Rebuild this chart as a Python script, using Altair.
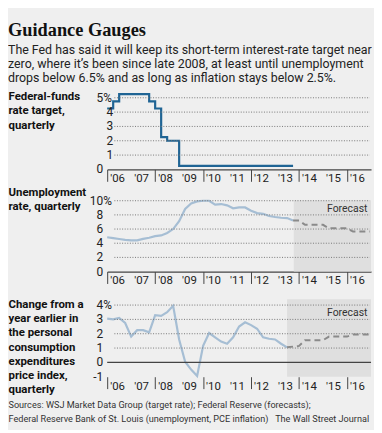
import altair as alt
import pandas as pd

# ---------------- data ----------------
ff_x = [2006.0, 2006.25, 2006.5, 2007.75, 2008.0, 2008.25, 2008.5, 2009.0, 2013.75]
ff_v = [4.25, 4.75, 5.25, 4.75, 4.25, 2.25, 2.0, 0.25, 0.25]

un_x = [2006.0, 2006.25, 2006.5, 2006.75, 2007.0, 2007.25, 2007.5, 2007.75,
        2008.0, 2008.25, 2008.5, 2008.75, 2009.0, 2009.25, 2009.5, 2009.75,
        2010.0, 2010.25, 2010.5, 2010.75, 2011.0, 2011.25, 2011.5, 2011.75,
        2012.0, 2012.25, 2012.5, 2012.75, 2013.0, 2013.25, 2013.5, 2013.75]
un_v = [4.85, 4.72, 4.6, 4.48, 4.4, 4.4, 4.62, 4.77,
        5.0, 5.1, 5.45, 6.0, 7.1, 8.83, 9.6, 9.9,
        10.0, 10.0, 9.45, 9.53, 9.35, 8.93, 9.07, 9.05,
        8.6, 8.25, 8.15, 7.85, 7.7, 7.6, 7.55, 7.2]
un_fx = [2013.75, 2014.0, 2014.25, 2015.0, 2015.25, 2016.0, 2016.25, 2016.95]
un_fv = [7.2, 7.2, 6.6, 6.6, 6.1, 6.1, 5.65, 5.65]

pce_x = [2006.0, 2006.25, 2006.5, 2006.75, 2007.0, 2007.25, 2007.5, 2007.75,
         2008.0, 2008.25, 2008.5, 2008.75, 2009.0, 2009.25, 2009.5, 2009.75,
         2010.0, 2010.25, 2010.5, 2010.75, 2011.0, 2011.25, 2011.5, 2011.75,
         2012.0, 2012.25, 2012.5, 2012.75, 2013.0, 2013.25, 2013.5]
pce_v = [3.05, 3.0, 3.1, 2.75, 1.8, 2.25, 2.25, 2.1,
         3.3, 3.25, 3.5, 3.95, 1.6, 0.05, -0.5, -0.95,
         1.15, 2.05, 1.75, 1.45, 1.3, 1.75, 2.5, 2.8,
         2.6, 2.35, 1.75, 1.65, 1.6, 1.3, 1.05]
pce_fx = [2013.5, 2014.0, 2014.25, 2015.0, 2015.25, 2016.0, 2016.25, 2016.95]
pce_fv = [1.05, 1.15, 1.55, 1.55, 1.8, 1.8, 1.95, 1.95]

# tick positions and tick labels
year_ticks = [2006, 2007, 2008, 2009, 2010, 2011, 2012, 2013, 2014, 2015, 2016]
year_labels = ["'06", "'07", "'08", "'09", "'10", "'11", "'12", "'13", "'14", "'15", "'16"]

ff_tick_in = [1, 2, 3, 4]
ff_lab_in = ["1", "2", "3", "4"]
ff_tick_out = [0, 5]
ff_lab_out = ["0", "5"]
un_ticks = [0, 2, 4, 6, 8, 10]
un_labs = ["0", "2", "4", "6", "8", "10"]
pce_ticks = [-1, 0, 1, 2, 3, 4]
pce_labs = ["-1", "0", "1", "2", "3", "4"]

ff_grid = [1, 2, 3, 4, 5]
un_grid = [2, 4, 6, 8, 10]
pce_grid = [1, 2, 3, 4]

un_fc_start, un_fc_top = 2013.78, 10.07
pce_fc_start, pce_fc_top = 2013.5, 4.4

title_text = "Guidance Gauges"
subtitle_lines = [
    "The Fed has said it will keep its short-term interest-rate target near",
    "zero, where it\u2019s been since late 2008, at least until unemployment",
    "drops below 6.5% and as long as inflation stays below 2.5%.",
]
ff_label = ["Federal-funds", "rate target,", "quarterly"]
un_label = ["Unemployment", "rate, quarterly"]
pce_label = ["Change from a", "year earlier in", "the personal", "consumption",
             "expenditures", "price index,", "quarterly"]
credit = "The Wall Street Journal"
source_lines = [
    "Sources: WSJ Market Data Group (target rate); Federal Reserve (forecasts);",
    "Federal Reserve Bank of St. Louis (unemployment, PCE inflation)"
    + "\u00a0" * 3 + credit,
]

# ---------------- style ----------------
FONT = "Roboto"
SERIF = "Liberation Serif"
BG = "#efefef"
SHADE = "#dfdfdf"
DARK_BLUE = "#1f6494"
LIGHT_BLUE = "#a6bed4"
DASH_GREY = "#8a8a8a"
TXT = "#222222"
W = 266
XDOM = [2006, 2017.0]
xscale = alt.Scale(domain=XDOM, nice=False, zero=False)


def x_axis(domain_line=True, title=None, title_y=0):
    kw = dict(values=year_ticks, labels=False,
              ticks=True, tickSize=12, tickColor="#444", tickWidth=1,
              domain=domain_line, domainColor="#444", domainWidth=1.3,
              grid=False)
    if title is None:
        kw["title"] = None
    else:
        kw.update(title=title, titleAngle=0, titleAlign="left",
                  titleBaseline="top", titleX=-100, titleY=title_y,
                  titleFont=FONT, titleFontSize=9.2, titleFontWeight="normal",
                  titleLineHeight=13.6, titleColor="#333")
    return alt.Axis(**kw)


def y_axis(title_lines, title_y):
    return alt.Axis(labels=False, ticks=False, domain=False, grid=False,
                    title=title_lines, titleAngle=0, titleAlign="left",
                    titleBaseline="top", titleX=-100, titleY=title_y,
                    titleFont=FONT, titleFontSize=11.5, titleFontWeight="bold",
                    titleLineHeight=14.4, titleColor="#111")


one = pd.DataFrame({"a": [0]})


def grid_layer(vals):
    return alt.Chart(pd.DataFrame({"v": vals})).mark_rule(
        color="#777777", strokeWidth=1, strokeDash=[1, 1.6]
    ).encode(x=alt.datum(2006.3), x2=alt.datum(2016.95), y=alt.Y("v:Q"))


def shade_layer(x0, ytop, ybot):
    return alt.Chart(one).mark_rect(color=SHADE).encode(
        x=alt.datum(x0), x2=alt.datum(XDOM[1]),
        y=alt.datum(ybot), y2=alt.datum(ytop))


def forecast_text(yv):
    return alt.Chart(one).mark_text(
        text="Forecast", align="right", baseline="alphabetic",
        font=FONT, fontSize=10.5, color="#333"
    ).encode(x=alt.datum(2016.85), y=alt.datum(yv))


def dashed_layer(df):
    return alt.Chart(df).mark_line(color=DASH_GREY, strokeWidth=2,
                                   strokeDash=[6, 4]).encode(x="x:Q", y="v:Q")


def ylabels(vals, labs, dx):
    return alt.Chart(pd.DataFrame({"v": vals, "lab": labs})).mark_text(
        align="right", baseline="middle", dx=dx, font=FONT, fontSize=12, color=TXT
    ).encode(x=alt.datum(2006), y="v:Q", text="lab:N")


def pct_sign(v):
    return alt.Chart(one).mark_text(
        text="%", align="left", baseline="middle", dx=-4, font=FONT,
        fontSize=12, color=TXT
    ).encode(x=alt.datum(2006), y=alt.datum(v))


def xlabels(base):
    return alt.Chart(pd.DataFrame({"x": year_ticks, "lab": year_labels})).mark_text(
        align="left", baseline="top", dx=3, dy=4, font=FONT, fontSize=11.5, color=TXT
    ).encode(x="x:Q", y=alt.datum(base), text="lab:N")


# ---------------- panel 1: fed funds ----------------
ff_df = pd.DataFrame({"x": ff_x, "v": ff_v})
p1 = alt.layer(
    alt.Chart(ff_df).mark_line(color=DARK_BLUE, strokeWidth=2.2,
                               interpolate="step-after").encode(
        x=alt.X("x:Q", scale=xscale, axis=x_axis()),
        y=alt.Y("v:Q", scale=alt.Scale(domain=[0, 5.4], nice=False, zero=False),
                axis=y_axis(ff_label, -1.5)),
    ),
    grid_layer(ff_grid),
    ylabels(ff_tick_in, ff_lab_in, 6),
    ylabels(ff_tick_out, ff_lab_out, -4),
    pct_sign(5),
    xlabels(0),
).properties(
    width=W, height=78,
    title=alt.TitleParams(subtitle_lines, anchor="start", baseline="top",
                          font=FONT, fontSize=12.5, fontWeight="normal",
                          lineHeight=14.4, color=TXT, offset=5),
)

# ---------------- panel 2: unemployment ----------------
un_df = pd.DataFrame({"x": un_x, "v": un_v})
unf_df = pd.DataFrame({"x": un_fx, "v": un_fv})
p2 = alt.layer(
    shade_layer(un_fc_start, un_fc_top, 0),
    alt.Chart(un_df).mark_line(color=LIGHT_BLUE, strokeWidth=2.2).encode(
        x=alt.X("x:Q", scale=xscale, axis=x_axis()),
        y=alt.Y("v:Q", scale=alt.Scale(domain=[0, 10.5], nice=False, zero=False),
                axis=y_axis(un_label, -11)),
    ),
    grid_layer(un_grid),
    dashed_layer(unf_df),
    forecast_text(8.4),
    ylabels(un_ticks, un_labs, -4),
    pct_sign(10),
    xlabels(0),
).properties(width=W, height=75)

# ---------------- panel 3: PCE inflation ----------------
pce_df = pd.DataFrame({"x": pce_x, "v": pce_v})
pcef_df = pd.DataFrame({"x": pce_fx, "v": pce_fv})
p3 = alt.layer(
    shade_layer(pce_fc_start, pce_fc_top, -1),
    alt.Chart(pce_df).mark_line(color=LIGHT_BLUE, strokeWidth=2.2).encode(
        x=alt.X("x:Q", scale=xscale,
                axis=x_axis(domain_line=False, title=source_lines, title_y=24.4)),
        y=alt.Y("v:Q", scale=alt.Scale(domain=[-1, 4.4], nice=False, zero=False),
                axis=y_axis(pce_label, -1.1)),
    ),
    grid_layer(pce_grid),
    alt.Chart(one).mark_rule(color="#444", strokeWidth=1.5).encode(y=alt.datum(0)),
    dashed_layer(pcef_df),
    forecast_text(3.24),
    ylabels(pce_ticks, pce_labs, -4),
    pct_sign(4),
    xlabels(-1),
).properties(width=W, height=78)

chart = alt.vconcat(p1, p2, p3, spacing=28, bounds="flush").properties(
    title=alt.TitleParams(
        text=title_text, anchor="start", baseline="top",
        font=SERIF, fontSize=18.5, fontWeight="bold", color="#111", offset=4,
    ),
    padding={"left": 0, "top": 11, "right": 0, "bottom": 4},
    background=BG,
).configure_view(stroke=None)

chart.save("out.html", embed_options={"renderer": "svg", "actions": False})
